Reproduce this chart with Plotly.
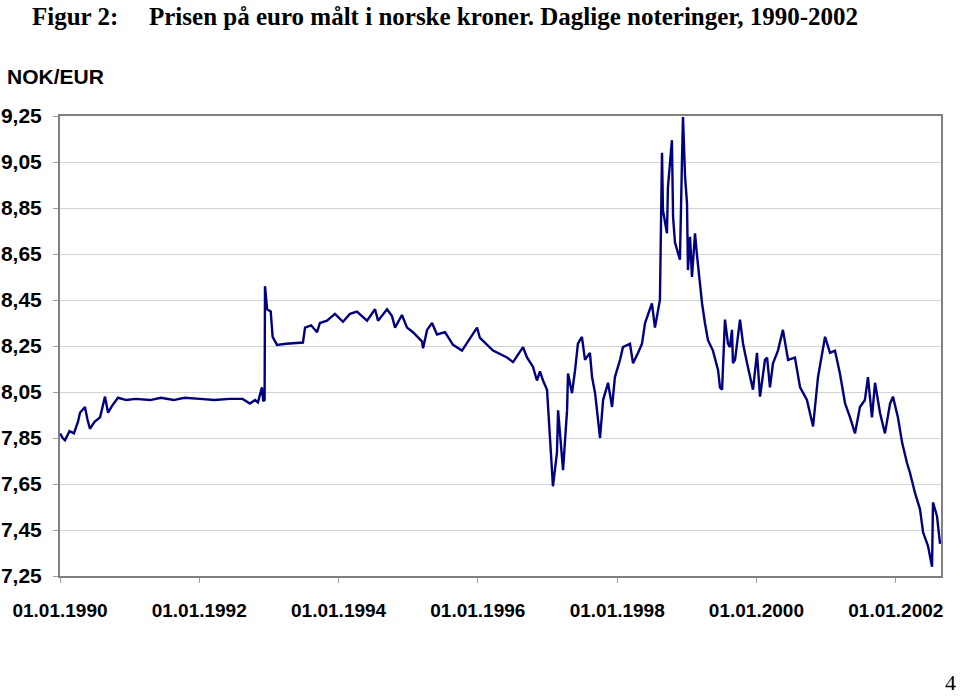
import plotly.graph_objects as go

dates = [
    "1990-01-01", "1990-01-15", "1990-01-27", "1990-02-20", "1990-03-15", "1990-04-05",
    "1990-04-16", "1990-05-12", "1990-05-25", "1990-06-07", "1990-07-01", "1990-07-30",
    "1990-08-25", "1990-09-10", "1990-10-01", "1990-11-01", "1990-12-15", "1991-02-01",
    "1991-04-18", "1991-06-15", "1991-08-20", "1991-10-15", "1992-01-05", "1992-03-20",
    "1992-06-10", "1992-08-15", "1992-09-23", "1992-10-20", "1992-11-04", "1992-11-25",
    "1992-12-02", "1992-12-09", "1992-12-11", "1992-12-22", "1993-01-10", "1993-01-20",
    "1993-02-12", "1993-04-01", "1993-06-28", "1993-07-09", "1993-08-10", "1993-09-10",
    "1993-09-25", "1993-11-01", "1993-12-13", "1994-01-24", "1994-03-02", "1994-04-07",
    "1994-05-30", "1994-07-11", "1994-07-27", "1994-09-12", "1994-10-08", "1994-10-24",
    "1994-11-29", "1994-12-26", "1995-01-26", "1995-03-14", "1995-03-20", "1995-04-10",
    "1995-05-06", "1995-06-01", "1995-07-13", "1995-08-24", "1995-10-10", "1995-11-21",
    "1995-12-28", "1996-01-12", "1996-03-21", "1996-06-02", "1996-07-04", "1996-08-25",
    "1996-09-15", "1996-10-16", "1996-11-06", "1996-11-22", "1996-12-08", "1996-12-29",
    "1997-01-14", "1997-01-29", "1997-02-19", "1997-02-25", "1997-03-23", "1997-04-13",
    "1997-04-18", "1997-05-09", "1997-05-25", "1997-06-09", "1997-06-30", "1997-07-16",
    "1997-08-11", "1997-08-22", "1997-09-07", "1997-09-22", "1997-10-03", "1997-10-19",
    "1997-11-14", "1997-12-05", "1997-12-20", "1998-01-16", "1998-01-31", "1998-03-09",
    "1998-03-25", "1998-04-20", "1998-05-11", "1998-05-27", "1998-06-11", "1998-07-02",
    "1998-07-18", "1998-08-03", "1998-08-13", "1998-08-24", "1998-08-29", "1998-09-19",
    "1998-09-24", "1998-10-15", "1998-10-21", "1998-10-31", "1998-11-26", "1998-12-07",
    "1998-12-12", "1998-12-23", "1999-01-02", "1999-01-07", "1999-01-18", "1999-01-28",
    "1999-02-13", "1999-02-24", "1999-03-11", "1999-03-22", "1999-04-06", "1999-04-22",
    "1999-05-18", "1999-06-14", "1999-06-24", "1999-07-05", "1999-07-20", "1999-08-05",
    "1999-08-15", "1999-08-26", "1999-08-31", "1999-09-11", "1999-10-07", "1999-10-23",
    "1999-11-13", "1999-11-28", "1999-12-14", "2000-01-04", "2000-01-20", "2000-02-15",
    "2000-02-26", "2000-03-12", "2000-03-28", "2000-04-23", "2000-05-19", "2000-06-15",
    "2000-07-21", "2000-08-17", "2000-09-22", "2000-10-24", "2000-11-19", "2000-12-26",
    "2001-01-21", "2001-02-16", "2001-03-14", "2001-04-10", "2001-05-06", "2001-06-01",
    "2001-06-27", "2001-07-23", "2001-08-08", "2001-08-29", "2001-09-14", "2001-10-10",
    "2001-11-05", "2001-12-02", "2001-12-17", "2002-01-12", "2002-02-03", "2002-03-01",
    "2002-03-16", "2002-04-12", "2002-05-08", "2002-05-24", "2002-06-19", "2002-07-10",
    "2002-07-15", "2002-08-05", "2002-08-21",
]

nok_eur = [
    7.87, 7.85, 7.84, 7.88, 7.87, 7.92,
    7.96, 7.985, 7.93, 7.89, 7.92, 7.94,
    8.03, 7.96, 7.99, 8.025, 8.015, 8.02,
    8.015, 8.025, 8.015, 8.025, 8.02, 8.015,
    8.02, 8.02, 8.00, 8.015, 8.005, 8.07,
    8.01, 8.015, 8.51, 8.41, 8.40, 8.29,
    8.255, 8.26, 8.265, 8.33, 8.34, 8.31,
    8.35, 8.36, 8.39, 8.355, 8.39, 8.40,
    8.36, 8.41, 8.36, 8.41, 8.38, 8.33,
    8.385, 8.33, 8.31, 8.27, 8.24, 8.32,
    8.35, 8.30, 8.31, 8.255, 8.23, 8.285,
    8.33, 8.285, 8.23, 8.20, 8.18, 8.245,
    8.20, 8.16, 8.10, 8.14, 8.10, 8.06,
    7.84, 7.64, 7.785, 7.97, 7.71, 7.97,
    8.13, 8.045, 8.145, 8.26, 8.29, 8.19,
    8.22, 8.115, 8.045, 7.915, 7.85, 8.015,
    8.09, 7.985, 8.115, 8.19, 8.245, 8.26,
    8.175, 8.22, 8.26, 8.35, 8.39, 8.435,
    8.33, 8.41, 8.45, 9.09, 8.84, 8.74,
    8.94, 9.145, 8.81, 8.70, 8.625, 9.07,
    9.245, 8.985, 8.87, 8.58, 8.725, 8.55,
    8.74, 8.64, 8.51, 8.435, 8.35, 8.275,
    8.23, 8.145, 8.07, 8.06, 8.365, 8.26,
    8.245, 8.32, 8.175, 8.19, 8.365, 8.26,
    8.175, 8.115, 8.06, 8.22, 8.03, 8.19,
    8.20, 8.07, 8.175, 8.23, 8.32, 8.19,
    8.20, 8.07, 8.015, 7.90, 8.115, 8.29,
    8.22, 8.23, 8.13, 8.00, 7.94, 7.87,
    7.985, 8.015, 8.115, 7.94, 8.09, 7.96,
    7.87, 8.00, 8.03, 7.94, 7.83, 7.74,
    7.70, 7.61, 7.54, 7.44, 7.38, 7.29,
    7.57, 7.51, 7.39,
]

y_ticks = [7.25, 7.45, 7.65, 7.85, 8.05, 8.25, 8.45, 8.65, 8.85, 9.05, 9.25]
y_tick_labels = ["7,25", "7,45", "7,65", "7,85", "8,05", "8,25", "8,45", "8,65", "8,85", "9,05", "9,25"]
x_ticks = ["1990-01-01", "1992-01-01", "1994-01-01", "1996-01-01", "1998-01-01", "2000-01-01", "2002-01-01"]
x_tick_labels = ["01.01.1990", "01.01.1992", "01.01.1994", "01.01.1996", "01.01.1998", "01.01.2000", "01.01.2002"]

sans = "Liberation Sans, Arial, sans-serif"
serif = "Liberation Serif, Times New Roman, serif"

fig = go.Figure()
fig.add_trace(go.Scatter(
    x=dates, y=nok_eur, mode="lines",
    line=dict(color="#000080", width=2.4),
    showlegend=False,
))

fig.update_layout(
    width=960, height=699,
    margin=dict(l=60, r=19, t=116, b=123, autoexpand=False),
    paper_bgcolor="white", plot_bgcolor="white",
    xaxis=dict(
        range=["1990-01-01", "2002-08-26"],
        tickvals=x_ticks, ticktext=x_tick_labels,
        ticks="outside", ticklen=5, tickcolor="#a0a0a0", tickwidth=1,
        showgrid=False, zeroline=False,
        showline=True, linecolor="#808080", linewidth=2, mirror=True,
        tickfont=dict(family=sans, size=19, color="black", weight="bold"),
        ticklabelstandoff=11, automargin=False,
    ),
    yaxis=dict(
        range=[7.25, 9.25],
        tickvals=y_ticks, ticktext=y_tick_labels,
        ticks="outside", ticklen=5, tickcolor="#a0a0a0", tickwidth=1,
        showgrid=True, gridcolor="#d4d4d4", gridwidth=1,
        zeroline=False,
        showline=True, linecolor="#808080", linewidth=2, mirror=True,
        tickfont=dict(family=sans, size=21, color="black", weight="bold"),
        ticklabelstandoff=7, automargin=False,
    ),
    annotations=[
        dict(text="Figur 2:", xref="paper", yref="paper", x=(30 - 60) / 881, y=(576 - 0.5) / 460,
             xanchor="left", yanchor="top", showarrow=False,
             font=dict(family=serif, size=25, color="black", weight="bold")),
        dict(text="Prisen på euro målt i norske kroner. Daglige noteringer, 1990-2002",
             xref="paper", yref="paper", x=(147 - 60) / 881, y=(576 - 0.5) / 460,
             xanchor="left", yanchor="top", showarrow=False,
             font=dict(family=serif, size=25, color="black", weight="bold")),
        dict(text="NOK/EUR", xref="paper", yref="paper", x=(5 - 60) / 881, y=(576 - 76) / 460,
             xanchor="left", yanchor="middle", showarrow=False,
             font=dict(family=sans, size=21, color="black", weight="bold")),
        dict(text="4", xref="paper", yref="paper", x=(958 - 60) / 881, y=(576 - 697) / 460,
             xanchor="right", yanchor="bottom", showarrow=False,
             font=dict(family=serif, size=22, color="black")),
    ],
)

fig.write_html("out.html")
